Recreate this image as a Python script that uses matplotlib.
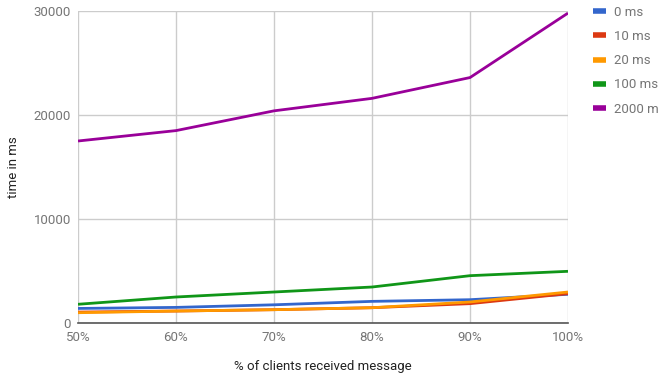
import matplotlib
matplotlib.use("Agg")
import matplotlib.pyplot as plt

plt.rcParams['font.family'] = ['Roboto', 'DejaVu Sans']

categories = ["50%", "60%", "70%", "80%", "90%", "100%"]
series_names = ["0 ms", "10 ms", "20 ms", "100 ms", "2000 ms"]
s0 = [1400, 1500, 1750, 2080, 2240, 2760]
s10 = [1050, 1150, 1280, 1470, 1860, 2820]
s20 = [990, 1150, 1280, 1470, 2020, 2980]
s100 = [1800, 2500, 2980, 3460, 4550, 4970]
s2000 = [17500, 18500, 20400, 21600, 23600, 29800]
values = [s0, s10, s20, s100, s2000]
colors = ["#3366cc", "#dc3912", "#ff9900", "#109618", "#990099"]
yticks = [0, 10000, 20000, 30000]

fig = plt.figure(figsize=(6.58, 3.82), dpi=100)
ax = fig.add_axes([78/658, 1-323/382, 490/658, 312/382])
x = list(range(len(categories)))
for name, v, c in zip(series_names, values, colors):
    ax.plot(x, v, color=c, lw=2, label=name, solid_capstyle='butt')

ax.set_xlim(0, len(categories)-1)
ax.set_ylim(0, 30000)
ax.set_xticks(x)
ax.set_xticklabels(categories)
ax.set_yticks(yticks)
ax.set_yticklabels([str(t) for t in yticks])
ax.grid(True, color="#cccccc", lw=1)
ax.set_axisbelow(True)
for s in ["top", "right", "left"]:
    ax.spines[s].set_visible(False)
ax.spines["bottom"].set_color("#555555")
ax.spines["bottom"].set_linewidth(1.2)
ax.spines["bottom"].set_zorder(3)
ax.tick_params(axis="both", length=0, colors="#757575", labelsize=9.5)
ax.tick_params(axis="x", pad=6)
ax.tick_params(axis="y", pad=5)
ax.set_xlabel("% of clients received message", color="#222222", fontsize=9.5, labelpad=11)
ax.set_ylabel("time in ms", color="#222222", fontsize=9.5, labelpad=10)

leg = fig.legend(loc="upper left", bbox_to_anchor=(588/658, 1-0.5/382), frameon=False,
                 fontsize=9.5, handlelength=1.0, handletextpad=0.55, labelspacing=0.85,
                 borderaxespad=0)
for t in leg.get_texts():
    t.set_color("#757575")
for h in leg.get_lines():
    h.set_linewidth(4)

fig.savefig("out.png", dpi=100)
